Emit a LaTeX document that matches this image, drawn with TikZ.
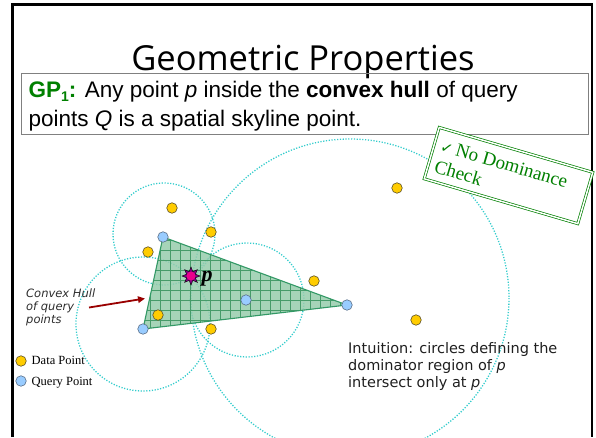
\documentclass[tikz,border=0pt]{standalone}
\usepackage{fontspec}
\setmainfont{Liberation Serif}
\newfontfamily\arialf{Liberation Sans}
\newfontfamily\verdf{DejaVu Sans}
\newfontfamily\titlef{Open Sans}
\usetikzlibrary{shapes.geometric,arrows.meta}
\definecolor{gpgreen}{RGB}{0,128,0}
\definecolor{domcyan}{RGB}{51,204,204}
\definecolor{datayellow}{RGB}{255,204,0}
\definecolor{dataedge}{RGB}{90,80,40}
\definecolor{queryblue}{RGB}{153,204,255}
\definecolor{queryedge}{RGB}{90,110,135}
\definecolor{hullfill}{RGB}{150,205,172}
\definecolor{hullgrid}{RGB}{70,155,105}
\definecolor{hulledge}{RGB}{51,153,102}
\definecolor{boxgray}{RGB}{128,128,128}
\definecolor{arrowred}{RGB}{153,0,0}
\definecolor{labelgray}{RGB}{45,45,45}
\definecolor{starpurple}{RGB}{130,0,130}
\begin{document}
\begin{tikzpicture}[x=1pt,y=-1pt,
  dom/.style={draw=domcyan, line width=1.3pt, dash pattern=on 1.2pt off 1.6pt},
  datapt/.style={circle, fill=datayellow, draw=dataedge, line width=0.6pt, minimum size=10.5pt, inner sep=0pt},
  querypt/.style={circle, fill=queryblue, draw=queryedge, line width=0.6pt, minimum size=10.5pt, inner sep=0pt},
  stampbox/.style={draw=gpgreen, double=white, double distance=1.5pt, line width=0.7pt, fill=white, inner sep=0pt},
  stamptext/.style={text=gpgreen, font=\fontsize{19}{19}\selectfont, inner sep=0pt},
  gptext/.style={font=\arialf\fontsize{22.5}{26}\selectfont, inner sep=0pt, anchor=base west},
  hulllabel/.style={font=\verdf\itshape\fontsize{11.5}{11.5}\selectfont, text=labelgray, inner sep=0pt, anchor=base west},
  intutext/.style={font=\verdf\fontsize{14.5}{14.5}\selectfont, text=black!88, inner sep=0pt, anchor=base west},
  legtext/.style={font=\fontsize{12.5}{12.5}\selectfont, inner sep=0pt, anchor=base west}
]
\useasboundingbox (0,0) rectangle (596,437);

% slide frame
\draw[line width=3pt] (12.5,437) -- (12.5,4) -- (592,4);
\draw[line width=2pt] (592,3) -- (592,437);

% title
\node[font=\titlef\fontsize{34.5}{36}\selectfont, anchor=base, inner sep=0pt] (title) at (303,70) {Geometric Properties};

% GP box
\node[draw=boxgray, line width=0.8pt, minimum width=567pt, minimum height=61pt, inner sep=0pt, anchor=north west] (gpbox) at (21,73) {};
\node[gptext] (gpl1) at (28.5,97) {{\bfseries\color{gpgreen}GP\raisebox{-0.22em}{\fontsize{14}{14}\selectfont 1}:} Any point \textit{p} inside the \textbf{convex hull} of query};
\node[gptext] (gpl2) at (28.5,126) {points \textit{Q} is a spatial skyline point.};

% query points (positions)
\coordinate (q1pos) at (163,237);
\coordinate (q2pos) at (143,329);
\coordinate (q3pos) at (347,305);
\coordinate (q4pos) at (246,300);
\coordinate (ppos) at (191,276);

% dominator circles
\draw[dom] (164,234) circle[radius=51];
\draw[dom] (143,324) circle[radius=67];
\draw[dom] (247,300) circle[radius=57];
\draw[dom] (350,298) circle[radius=159];

% convex hull
\begin{scope}
  \clip (q1pos) -- (q2pos) -- (q3pos) -- cycle;
  \fill[hullfill, fill opacity=0.85] (120,220) rectangle (360,340);
  \draw[hullgrid, line width=0.5pt, step=10pt] (120,220) grid (360,340);
\end{scope}
\draw[hulledge, line width=1.1pt, line join=round] (q1pos) -- (q2pos) -- (q3pos) -- cycle;

% data points
\node[datapt] (d1) at (172,208) {};
\node[datapt] (d2) at (211,232) {};
\node[datapt] (d3) at (148,252) {};
\node[datapt] (d4) at (314,281) {};
\node[datapt] (d5) at (158,315) {};
\node[datapt] (d6) at (211,329) {};
\node[datapt] (d7) at (397,188) {};
\node[datapt] (d8) at (416,320) {};

% query points
\node[querypt] (q1) at (q1pos) {};
\node[querypt] (q2) at (q2pos) {};
\node[querypt] (q3) at (q3pos) {};
\node[querypt] (q4) at (q4pos) {};

% point p
\node[star, star points=8, star point ratio=1.9, minimum size=18pt, inner sep=0pt, fill=starpurple, draw=black, line width=0.4pt] (pstar) at (ppos) {};
\node[circle, fill=magenta, minimum size=9pt, inner sep=0pt] (pdot) at (ppos) {};
\node[font=\bfseries\itshape\fontsize{22}{22}\selectfont, anchor=base west, inner sep=0pt] (plabel) at (201.5,281.5) {p};

% hull label and arrow
\node[hulllabel] (hl1) at (26,297.7) {Convex Hull};
\node[hulllabel] (hl2) at (26,310.5) {of query};
\node[hulllabel] (hl3) at (26,323.2) {points};
\coordinate (ha) at (89,307.5);
\coordinate (hb) at (145,298.5);
\draw[arrowred, line width=1.8pt, -{Triangle[length=7pt,width=6.5pt]}] (ha) -- (hb);

% legend
\node[datapt] (legd) at (21,361) {};
\node[legtext] (legdt) at (31.5,364.5) {Data Point};
\node[querypt] (legq) at (21,381) {};
\node[legtext] (legqt) at (31.5,385) {Query Point};

% intuition text
\node[intutext] (in1) at (348,353.3) {Intuition: circles defining the};
\node[intutext] (in2) at (348,370.5) {dominator region of \textit{p}};
\node[intutext] (in3) at (348,387.7) {intersect only at \textit{p}};

% stamp
\begin{scope}[shift={(439,127)}, rotate=-16.3]
  \node[stampbox, minimum width=160pt, minimum height=53.5pt, anchor=north west, transform shape] (stamp) at (0,0) {};
  \node[stamptext, anchor=base west, transform shape] (st1) at (7,23) {{\verdf\fontsize{15}{15}\selectfont ✓}\,No Dominance};
  \node[stamptext, anchor=base west, transform shape] (st2) at (7,45) {Check};
\end{scope}
\end{tikzpicture}
\end{document}
